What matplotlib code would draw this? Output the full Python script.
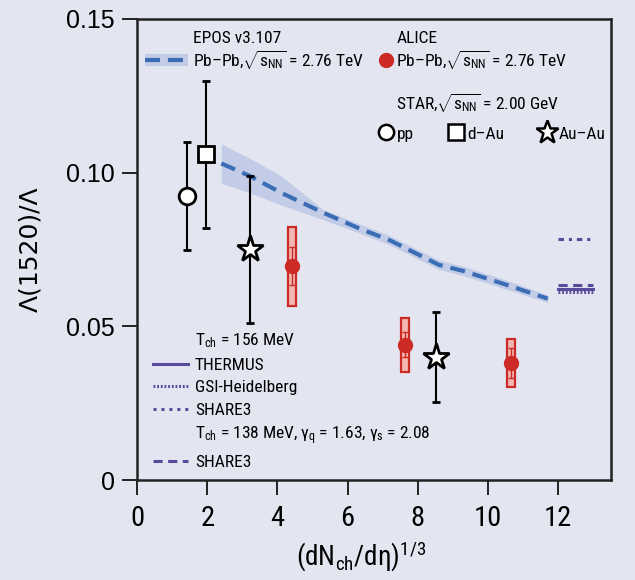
import matplotlib
matplotlib.use("Agg")
import matplotlib.pyplot as plt
from matplotlib import font_manager as fm
from matplotlib.lines import Line2D
from matplotlib.patches import Patch
import numpy as np

# ---------------- data ----------------
epos_x = [2.4, 3.2, 4.1, 5.3, 6.3, 7.2, 8.6, 9.3, 10.5, 11.7]
epos_y = [0.103, 0.099, 0.0935, 0.087, 0.082, 0.078, 0.070, 0.068, 0.0636, 0.059]
epos_lo = [0.0966, 0.0935, 0.0895, 0.0847, 0.0805, 0.0765, 0.0685, 0.0665, 0.0621, 0.0578]
epos_hi = [0.1094, 0.1047, 0.0990, 0.0880, 0.0835, 0.0795, 0.0715, 0.0695, 0.0651, 0.0602]

alice_x = [4.42, 7.64, 10.66]
alice_y = [0.0695, 0.0440, 0.0381]
alice_stat = [0.0062, 0.0040, 0.0050]
alice_syst = [0.0128, 0.0087, 0.0077]

star_pp_x = [1.43]
star_pp_y = [0.0923]
star_pp_err = [[0.0175], [0.0176]]
star_dau_x = [1.97]
star_dau_y = [0.1061]
star_dau_err = [[0.0241], [0.0236]]
star_auau_x = [3.22, 8.52]
star_auau_y = [0.0751, 0.0400]
star_auau_err = [[0.0239, 0.0145], [0.0239, 0.0148]]

thermal_x = [12.0, 13.0]
thermus_y = 0.0620
gsi_y = 0.0612
share3_y = 0.0785
share3_neq_y = 0.0635

xticks = [0, 2, 4, 6, 8, 10, 12]
yticks = [0, 0.05, 0.10, 0.15]
ytick_labels = ["0", "0.05", "0.10", "0.15"]

# ---------------- fonts ----------------
available = {f.name for f in fm.fontManager.ttflist}
cands = ["Roboto Condensed", "Archivo Narrow", "PT Sans Narrow", "Fira Sans Condensed",
         "IBM Plex Sans Condensed", "Open Sans Condensed", "Liberation Sans Narrow",
         "Encode Sans Condensed", "Barlow Semi Condensed"]
NARROW_NAME = next((c for c in cands if c in available), "DejaVu Sans")
NARROW = [NARROW_NAME, "DejaVu Sans"]

BG = "#e3e5f1"
plt.rcParams["font.family"] = NARROW
plt.rcParams["mathtext.fontset"] = "custom"
plt.rcParams["mathtext.rm"] = NARROW_NAME
plt.rcParams["mathtext.it"] = NARROW_NAME
plt.rcParams["mathtext.sf"] = NARROW_NAME
plt.rcParams["axes.linewidth"] = 1.8

blue = "#3b6db6"
band = "#c2cce6"
red = "#cc2b25"
pink = "#f2b7b0"
purple = "#5a4a9c"

fig = plt.figure(figsize=(6.35, 5.80), dpi=100, facecolor=BG)
ax = fig.add_axes([137 / 635, 1 - 480 / 580, 474 / 635, 461 / 580], facecolor=BG)

# EPOS band + line
ax.fill_between(epos_x, epos_lo, epos_hi, color=band, lw=0, zorder=1)
ax.plot(epos_x, epos_y, color=blue, lw=3, dashes=(3.6, 1.9), zorder=2)

# thermal model lines
ax.plot(thermal_x, [thermus_y] * 2, color=purple, lw=2.2, ls="-", zorder=2)
ax.plot(thermal_x, [gsi_y] * 2, color=purple, lw=2.2, ls=(0, (0.6, 0.6)), zorder=2)
ax.plot(thermal_x, [share3_y] * 2, color=purple, lw=2.2, ls=(0, (1.8, 1.6, 1.0, 1.6)), zorder=2)
ax.plot(thermal_x, [share3_neq_y] * 2, color=purple, lw=2.2, ls=(0, (3.0, 1.8)), zorder=2)

# ALICE: systematic boxes, stat bars, points
syst = np.array(alice_syst)
ax.bar(alice_x, 2 * syst, bottom=np.array(alice_y) - syst, width=0.22,
       facecolor=pink, edgecolor=red, linewidth=1.6, zorder=3)
ax.errorbar(alice_x, alice_y, yerr=alice_stat, fmt="o", color=red, ms=10,
            elinewidth=1.0, capsize=2.5, capthick=1.0, zorder=4)

# STAR
ekw = dict(color="black", elinewidth=1.5, capsize=3, capthick=1.5, zorder=5,
           mfc="white", mec="black", mew=2)
ax.errorbar(star_pp_x, star_pp_y, yerr=star_pp_err, fmt="o", ms=12, **ekw)
ax.errorbar(star_dau_x, star_dau_y, yerr=star_dau_err, fmt="s", ms=11.5, **ekw)
ax.errorbar(star_auau_x, star_auau_y, yerr=star_auau_err, fmt="*", ms=20, **ekw)

# axes
ax.set_xlim(0, 13.5)
ax.set_ylim(0, 0.15)
ax.set_xticks(xticks)
ax.set_yticks(yticks)
ax.set_yticklabels(ytick_labels)
ax.tick_params(axis="both", direction="out", length=11, width=1.4, color="#222222")
ax.tick_params(axis="x", labelsize=20.5, pad=7)
ax.tick_params(axis="y", labelsize=18, pad=5)
for lab in ax.get_yticklabels():
    lab.set_fontfamily(["Liberation Sans", "DejaVu Sans"])
for s in ax.spines.values():
    s.set_color("#222222")

ax.set_xlabel(r"(dN$_\mathregular{ch}$/dη)$^\mathregular{1/3}$", fontsize=19.5)
ax.xaxis.set_label_coords(0.472, -0.130, transform=ax.transAxes)
ax.set_ylabel("Λ(1520)/Λ", fontsize=18, family=["DejaVu Sans"])
ax.yaxis.set_label_coords(-0.200, 0.500, transform=ax.transAxes)

# ---------------- legends ----------------
blank = Line2D([], [], alpha=0)
fs = 12.5
sq = r"$\sqrt{\mathregular{s_{NN}}}$"

leg_epos = ax.legend(
    [blank, (Patch(facecolor=band, lw=0), Line2D([], [], color=blue, lw=3, dashes=(3.6, 1.9)))],
    ["EPOS v3.107", "Pb–Pb," + sq + " = 2.76 TeV"],
    loc="upper left", bbox_to_anchor=(0.016, 0.974), frameon=False, fontsize=fs,
    handlelength=2.5, handletextpad=0.3, labelspacing=0.13, borderpad=0, borderaxespad=0)
ax.add_artist(leg_epos)

leg_alice = ax.legend(
    [blank, Line2D([], [], marker="o", color=red, ls="none", ms=10)],
    ["ALICE", "Pb–Pb," + sq + " = 2.76 TeV"],
    loc="upper left", bbox_to_anchor=(0.510, 0.974), frameon=False, fontsize=fs,
    handlelength=0.8, handletextpad=0.22, labelspacing=0.13, borderpad=0, borderaxespad=0)
ax.add_artist(leg_alice)

leg_starh = ax.legend(
    [blank], ["STAR," + sq + " = 2.00 GeV"],
    loc="upper left", bbox_to_anchor=(0.510, 0.844), frameon=False, fontsize=fs,
    handlelength=0.8, handletextpad=0.22, borderpad=0, borderaxespad=0)
ax.add_artist(leg_starh)

mk = dict(ls="none", mfc="white", mec="black", mew=1.8)
leg_star = ax.legend(
    [Line2D([], [], marker="o", ms=11, **mk), Line2D([], [], marker="s", ms=11, **mk),
     Line2D([], [], marker="*", ms=17, **mk)],
    ["pp", "d–Au", "Au–Au"], ncol=3,
    loc="upper left", bbox_to_anchor=(0.508, 0.767), frameon=False, fontsize=fs,
    handlelength=0.9, handletextpad=0.2, columnspacing=2.0, borderpad=0, borderaxespad=0)
ax.add_artist(leg_star)

leg_th = ax.legend(
    [blank,
     Line2D([], [], color=purple, lw=2.2, ls="-"),
     Line2D([], [], color=purple, lw=2.2, ls=(0, (0.6, 0.6))),
     Line2D([], [], color=purple, lw=2.2, ls=(0, (1.0, 1.6))),
     blank,
     Line2D([], [], color=purple, lw=2.2, ls=(0, (3.0, 1.8)))],
    [r"T$_\mathregular{ch}$ = 156 MeV", "THERMUS", "GSI-Heidelberg", "SHARE3",
     r"T$_\mathregular{ch}$ = 138 MeV, γ$_\mathregular{q}$ = 1.63, γ$_\mathregular{s}$ = 2.08",
     "SHARE3"],
    loc="upper left", bbox_to_anchor=(0.034, 0.322), frameon=False, fontsize=12.5,
    handlelength=2.0, handletextpad=0.4, labelspacing=0.42, borderpad=0, borderaxespad=0)

fig.savefig("out.png", dpi=100, facecolor=BG)
